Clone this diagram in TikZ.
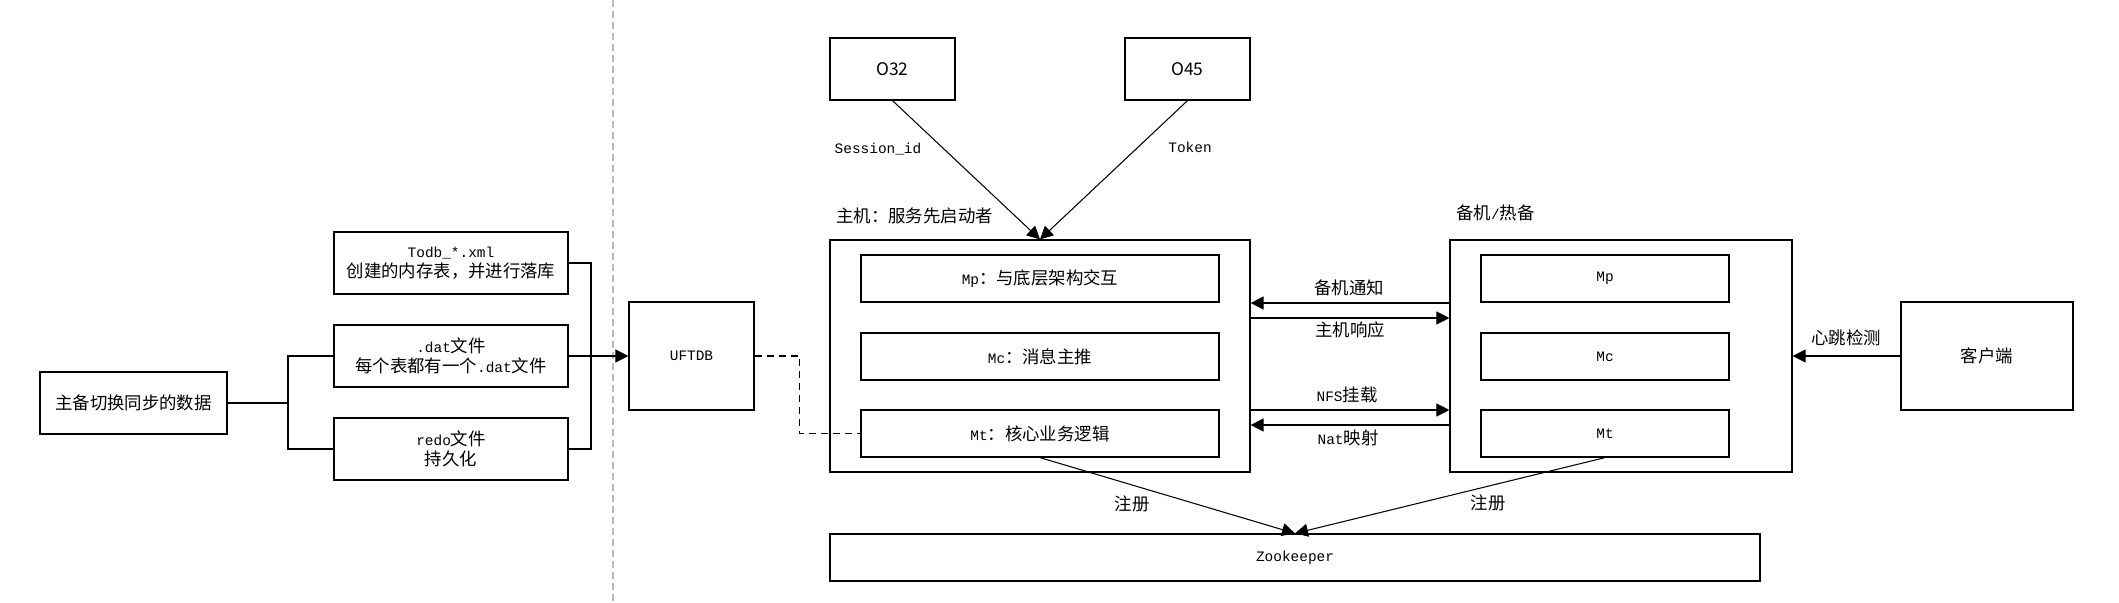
\documentclass[tikz,border=0pt]{standalone}
\usepackage{fontspec}
\setmainfont{Noto Sans CJK SC}
\newfontfamily\en{Liberation Mono}[Scale=0.83]
\usetikzlibrary{arrows.meta}

\tikzset{
  box/.style={draw, line width=0.7pt, inner sep=0pt, align=center},
  link/.style={line width=0.6pt},
  arrow/.style={link, -{Triangle[length=0.26cm, width=0.26cm]}},
  lbl/.style={inner sep=0pt, align=center}
}

\begin{document}
\begin{tikzpicture}[x=0.02cm, y=-0.02cm, font=\fontsize{9.9}{11.4}\selectfont]
  \useasboundingbox (0,0) rectangle (2119,602);

  % Separator between data and services
  \draw[gray!55, line width=0.6pt, dash pattern=on 0.14cm off 0.08cm] (613,0) -- (613,602);

  % Data synchronised on switch-over
  \node[box, minimum width=3.74cm, minimum height=1.24cm] (sync) at (133.5,403) {主备切换同步的数据};
  \node[box, minimum width=4.68cm, minimum height=1.24cm] (todb) at (451,263) {{\en Todb\_*.xml}\\创建的内存表，并进行落库};
  \node[box, minimum width=4.68cm, minimum height=1.24cm] (dat) at (451,356) {{\en .dat}文件\\每个表都有一个{\en .dat}文件};
  \node[box, minimum width=4.68cm, minimum height=1.24cm] (redo) at (451,449) {{\en redo}文件\\持久化};
  \node[box, minimum width=2.5cm, minimum height=2.16cm] (uftdb) at (691.5,356) {\en UFTDB};

  \coordinate (split) at (288,403);
  \coordinate (merge) at (591,356);
  \draw[link] (sync.east) -- (split);
  \draw[link] (split) |- (dat.west);
  \draw[link] (split) |- (redo.west);
  \draw[link] (todb.east) -| (merge);
  \draw[link] (redo.east) -| (merge);
  \draw[arrow] (dat.east) -- (uftdb.west);

  % Upstream systems
  \node[box, minimum width=2.5cm, minimum height=1.24cm] (o32) at (892.5,69) {O32};
  \node[box, minimum width=2.5cm, minimum height=1.24cm] (o45) at (1187.5,69) {O45};

  % Host
  \node[lbl, anchor=west] (hostlbl) at (836,216) {主机：服务先启动者};
  \node[box, minimum width=8.4cm, minimum height=4.64cm] (host) at (1040,356) {};
  \node[box, minimum width=7.16cm, minimum height=0.94cm] (hmp) at (1040,278.5) {{\en Mp}：与底层架构交互};
  \node[box, minimum width=7.16cm, minimum height=0.94cm] (hmc) at (1040,356.5) {{\en Mc}：消息主推};
  \node[box, minimum width=7.16cm, minimum height=0.94cm] (hmt) at (1040,433.5) {{\en Mt}：核心业务逻辑};

  % Standby
  \node[lbl, anchor=west] (stbylbl) at (1456,213) {备机{\en /}热备};
  \node[box, minimum width=6.84cm, minimum height=4.64cm] (standby) at (1621,356) {};
  \node[box, minimum width=4.96cm, minimum height=0.94cm] (smp) at (1605,278.5) {\en Mp};
  \node[box, minimum width=4.96cm, minimum height=0.94cm] (smc) at (1605,356.5) {\en Mc};
  \node[box, minimum width=4.96cm, minimum height=0.94cm] (smt) at (1605,433.5) {\en Mt};

  % Client and registry
  \node[box, minimum width=3.44cm, minimum height=2.16cm] (client) at (1987,356) {客户端};
  \node[box, minimum width=18.6cm, minimum height=0.94cm] (zk) at (1295,557.5) {\en Zookeeper};

  % Connectors
  \draw[link, dash pattern=on 0.14cm off 0.1cm] (uftdb.east) -- ++(45,0) |- (hmt.west);
  \draw[arrow] (o32.south) -- (host.north);
  \draw[arrow] (o45.south) -- (host.north);
  \draw[arrow] (standby.west |- 0,303) -- (host.east |- 0,303);
  \draw[arrow] (host.east |- 0,318) -- (standby.west |- 0,318);
  \draw[arrow] (host.east |- 0,410) -- (standby.west |- 0,410);
  \draw[arrow] (standby.west |- 0,425) -- (host.east |- 0,425);
  \draw[arrow] (client.west) -- (standby.east);
  \draw[arrow] (hmt.south) -- (zk.north);
  \draw[arrow] (smt.south) -- (zk.north);

  % Connector labels
  \node[lbl] (sessionlbl) at (878,149) {\en Session\_id};
  \node[lbl] (tokenlbl) at (1190,147) {\en Token};
  \node[lbl] (notifylbl) at (1349,288) {备机通知};
  \node[lbl] (replylbl) at (1350,330) {主机响应};
  \node[lbl] (nfslbl) at (1347,395) {{\en NFS}挂载};
  \node[lbl] (natlbl) at (1348,438) {{\en Nat}映射};
  \node[lbl] (reglbl) at (1132,504) {注册};
  \node[lbl] (sreglbl) at (1488,503) {注册};
  \node[lbl] (beatlbl) at (1846,338) {心跳检测};
\end{tikzpicture}
\end{document}
